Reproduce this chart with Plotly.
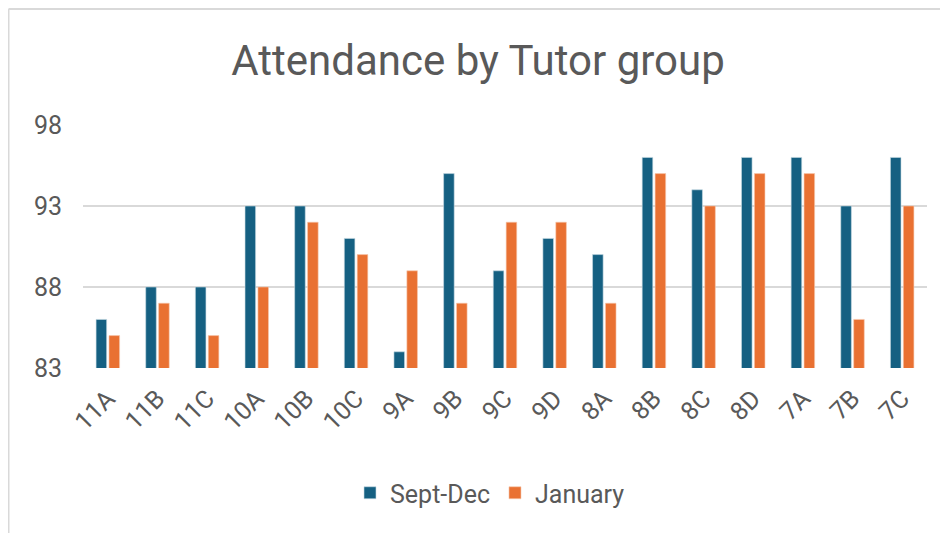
import plotly.graph_objects as go

groups = ["11A", "11B", "11C", "10A", "10B", "10C", "9A", "9B", "9C", "9D",
          "8A", "8B", "8C", "8D", "7A", "7B", "7C"]
sept_dec = [86, 88, 88, 93, 93, 91, 84, 95, 89, 91, 90, 96, 94, 96, 96, 93, 96]
january = [85, 87, 85, 88, 92, 90, 89, 87, 92, 92, 87, 95, 93, 95, 95, 86, 93]
y_ticks = [83, 88, 93, 98]

BLUE = "#156082"
ORANGE = "#E97132"
FONT = "Roboto"
GRAY = "#595959"

fig = go.Figure()
fig.add_trace(go.Bar(x=groups, y=sept_dec, name="Sept-Dec",
                     marker=dict(color=BLUE, line=dict(color="#c9dbe4", width=0.6))))
fig.add_trace(go.Bar(x=groups, y=january, name="January",
                     marker=dict(color=ORANGE, line=dict(color="#f6c9b0", width=0.6))))

# the page adds an 8px body margin, so figure coords = screen coords - 8
OFF = 8
W, H = 948, 533
L, T = 83 - OFF, 125 - OFF
R = W - (927 - OFF)
B = H - (368 - OFF)
pw, ph = W - L - R, H - T - B

def px(x):
    return (x - OFF - L) / pw

def py(y):
    return (H - B - (y - OFF)) / ph

shapes = [
    dict(type="line", xref="paper", yref="paper", x0=px(8.5), x1=px(970), y0=py(9), y1=py(9),
         line=dict(color="#d9d9d9", width=2)),
    dict(type="line", xref="paper", yref="paper", x0=px(8.5), x1=px(8.5), y0=py(9), y1=py(560),
         line=dict(color="#d9d9d9", width=2)),
]

fig.update_layout(
    width=W, height=H,
    margin=dict(l=L, r=R, t=T, b=B, autoexpand=False),
    paper_bgcolor="white", plot_bgcolor="white",
    barmode="group", bargap=0.48, bargroupgap=0.18,
    title=dict(text="Attendance by Tutor group", x=(478 - OFF) / W, xref="container",
               xanchor="center", y=1 - (60 - OFF) / H, yref="container", yanchor="middle",
               font=dict(family=FONT, size=42, color=GRAY)),
    font=dict(family=FONT, color=GRAY),
    xaxis=dict(tickangle=-45, tickfont=dict(size=25, color=GRAY), showgrid=False,
               showline=False, ticks="", ticklabelstandoff=10, automargin=False),
    yaxis=dict(range=[83, 98], tickvals=y_ticks, tickfont=dict(size=25, color=GRAY),
               showgrid=True, gridcolor="#d9d9d9", gridwidth=1.5, zeroline=False,
               showline=False, ticks="", ticklabelstandoff=20, automargin=False),
    legend=dict(orientation="h", x=px(490), xanchor="center", y=py(493), yanchor="middle",
                font=dict(size=25, color=GRAY), tracegroupgap=0),
    shapes=shapes,
)

fig.write_html("out.html")
